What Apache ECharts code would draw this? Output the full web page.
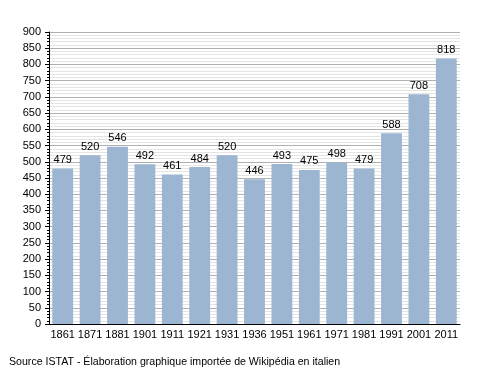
<!DOCTYPE html>
<html><head><meta charset="utf-8">
<script src="https://cdn.jsdelivr.net/npm/echarts@6/dist/echarts.min.js"></script>
<style>html,body{margin:0;padding:0;background:#fff}#c{width:488px;height:373px}</style>
</head><body><div id="c"></div>
<script>
var categories = ['1861','1871','1881','1901','1911','1921','1931','1936','1951','1961','1971','1981','1991','2001','2011'];
var population = [479,520,546,492,461,484,520,446,493,475,498,479,588,708,818];
var sourceText = 'Source ISTAT - Élaboration graphique importée de Wikipédia en italien';

var chart = echarts.init(document.getElementById('c'), null, {renderer:'canvas'});
chart.setOption({
  animation:false,
  backgroundColor:'#ffffff',
  textStyle:{fontFamily:'Liberation Sans, Arial, sans-serif'},
  grid:{left:49,right:28,top:32,bottom:49,containLabel:false},
  graphic:[{type:'text',left:9,top:357,style:{text:sourceText,fontSize:10.6,fill:'#000',fontFamily:'Liberation Sans, Arial, sans-serif'}}],
  xAxis:{
    type:'category',data:categories,
    axisLine:{show:true,lineStyle:{color:'#000',width:1}},
    axisTick:{show:false},
    axisLabel:{color:'#000',fontSize:11,margin:5,interval:0},
    splitLine:{show:false}
  },
  yAxis:{
    type:'value',min:0,max:900,interval:50,
    axisLine:{show:true,lineStyle:{color:'#000',width:1}},
    axisTick:{show:true,length:4,inside:false,lineStyle:{color:'#000'}},
    minorTick:{show:true,splitNumber:5,length:2,lineStyle:{color:'#000'}},
    axisLabel:{color:'#000',fontSize:11,margin:8},
    splitLine:{show:true,lineStyle:{color:'#b0b0b0',width:1}},
    minorSplitLine:{show:true,lineStyle:{color:'#e4e4e4',width:1}}
  },
  series:[{
    type:'bar',data:population,barCategoryGap:'24%',
    itemStyle:{color:'#9cb5d0'},
    label:{show:true,position:'top',color:'#000',fontSize:11,distance:3}
  }]
});
</script></body></html>
